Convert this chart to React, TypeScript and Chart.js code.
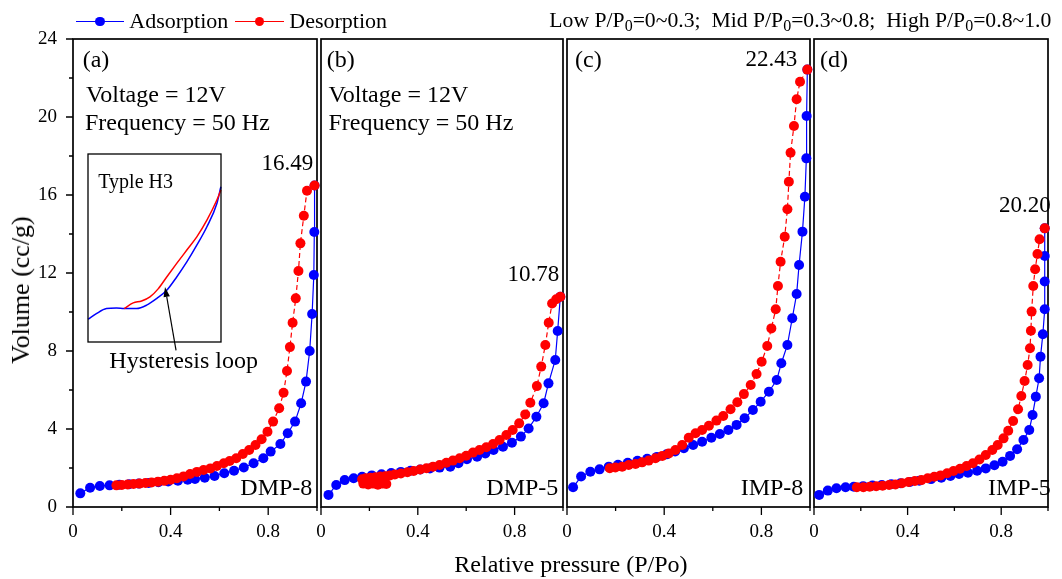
import React, { useEffect, useRef } from "react";
import { Chart, registerables } from "chart.js";
Chart.register(...registerables);

const FONT = '"Liberation Serif", "Times New Roman", Times, serif';
const W = 1062;
const H = 579;

// ---------- data ----------
// (a) DMP-8
const aAdsX = [0.03, 0.07, 0.11, 0.15, 0.19, 0.23, 0.27, 0.31, 0.35, 0.39, 0.43, 0.47, 0.5, 0.54, 0.58, 0.62, 0.66, 0.7, 0.74, 0.78, 0.81, 0.85, 0.88, 0.91, 0.935, 0.955, 0.97, 0.98, 0.987, 0.989, 0.99];
const aAdsY = [0.7, 0.99, 1.08, 1.11, 1.14, 1.17, 1.2, 1.23, 1.27, 1.31, 1.35, 1.4, 1.44, 1.5, 1.59, 1.73, 1.86, 2.03, 2.24, 2.5, 2.84, 3.23, 3.78, 4.38, 5.32, 6.43, 8.0, 9.9, 11.9, 14.1, 16.49];
const aDesX = [0.99, 0.959, 0.946, 0.932, 0.924, 0.913, 0.9, 0.889, 0.877, 0.863, 0.845, 0.82, 0.797, 0.773, 0.748, 0.722, 0.696, 0.669, 0.642, 0.618, 0.59, 0.563, 0.535, 0.508, 0.48, 0.453, 0.426, 0.4, 0.374, 0.348, 0.322, 0.297, 0.272, 0.248, 0.224, 0.2, 0.178];
const aDesY = [16.49, 16.22, 14.94, 13.52, 12.1, 10.7, 9.45, 8.2, 6.97, 5.86, 5.06, 4.38, 3.86, 3.47, 3.18, 2.92, 2.72, 2.5, 2.36, 2.24, 2.1, 1.98, 1.9, 1.8, 1.69, 1.57, 1.47, 1.4, 1.34, 1.3, 1.26, 1.23, 1.2, 1.18, 1.15, 1.13, 1.11];

// (b) DMP-5
const bAdsX = [0.031, 0.063, 0.098, 0.135, 0.17, 0.21, 0.25, 0.29, 0.33, 0.37, 0.41, 0.45, 0.49, 0.534, 0.568, 0.603, 0.645, 0.679, 0.713, 0.752, 0.789, 0.826, 0.858, 0.89, 0.92, 0.94, 0.968, 0.978, 0.989];
const bAdsY = [0.62, 1.13, 1.38, 1.47, 1.55, 1.62, 1.68, 1.74, 1.8, 1.86, 1.92, 1.98, 2.02, 2.07, 2.25, 2.45, 2.58, 2.75, 2.92, 3.09, 3.3, 3.61, 4.03, 4.63, 5.32, 6.34, 7.54, 9.03, 10.78];
const bDesX = [0.989, 0.972, 0.955, 0.941, 0.927, 0.91, 0.892, 0.865, 0.844, 0.819, 0.792, 0.766, 0.738, 0.711, 0.683, 0.655, 0.628, 0.6, 0.573, 0.545, 0.518, 0.49, 0.463, 0.436, 0.41, 0.383, 0.357, 0.33, 0.305, 0.285, 0.265, 0.245, 0.225, 0.205, 0.185, 0.17, 0.175, 0.195, 0.215, 0.235, 0.255, 0.27];
const bDesY = [10.78, 10.65, 10.44, 9.45, 8.31, 7.2, 6.2, 5.35, 4.75, 4.29, 3.95, 3.69, 3.44, 3.23, 3.06, 2.92, 2.79, 2.63, 2.5, 2.38, 2.27, 2.15, 2.07, 1.99, 1.92, 1.85, 1.78, 1.72, 1.67, 1.62, 1.58, 1.56, 1.53, 1.5, 1.47, 1.42, 1.2, 1.15, 1.2, 1.14, 1.2, 1.18];

// (c) IMP-8
const cAdsX = [0.025, 0.058, 0.096, 0.134, 0.172, 0.21, 0.25, 0.29, 0.33, 0.37, 0.41, 0.445, 0.481, 0.519, 0.556, 0.594, 0.629, 0.664, 0.698, 0.731, 0.765, 0.797, 0.831, 0.863, 0.882, 0.907, 0.927, 0.945, 0.955, 0.969, 0.979, 0.985, 0.986, 0.989];
const cAdsY = [1.01, 1.56, 1.81, 1.93, 2.07, 2.17, 2.27, 2.37, 2.47, 2.57, 2.7, 2.85, 3.01, 3.18, 3.35, 3.55, 3.74, 3.95, 4.21, 4.55, 4.97, 5.4, 5.91, 6.51, 7.37, 8.31, 9.68, 10.92, 12.41, 14.12, 15.91, 17.88, 20.05, 22.43];
const cDesX = [0.989, 0.959, 0.945, 0.934, 0.92, 0.913, 0.907, 0.896, 0.879, 0.868, 0.859, 0.841, 0.824, 0.801, 0.78, 0.756, 0.728, 0.701, 0.673, 0.643, 0.615, 0.584, 0.556, 0.529, 0.501, 0.474, 0.446, 0.419, 0.392, 0.364, 0.336, 0.309, 0.282, 0.254, 0.227, 0.199, 0.176];
const cDesY = [22.43, 21.81, 20.91, 19.54, 18.17, 16.68, 15.27, 13.86, 12.58, 11.33, 10.14, 9.16, 8.26, 7.45, 6.82, 6.26, 5.79, 5.37, 5.01, 4.67, 4.43, 4.17, 3.95, 3.78, 3.55, 3.18, 2.92, 2.75, 2.62, 2.5, 2.38, 2.29, 2.21, 2.15, 2.07, 2.03, 1.99];

// (d) IMP-5
const dAdsX = [0.022, 0.059, 0.096, 0.135, 0.17, 0.21, 0.25, 0.29, 0.33, 0.37, 0.41, 0.45, 0.5, 0.544, 0.583, 0.62, 0.658, 0.697, 0.734, 0.771, 0.806, 0.838, 0.868, 0.895, 0.92, 0.934, 0.948, 0.962, 0.968, 0.978, 0.986, 0.986, 0.986, 0.986];
const dAdsY = [0.62, 0.84, 0.96, 1.01, 1.04, 1.07, 1.1, 1.13, 1.17, 1.22, 1.28, 1.35, 1.43, 1.5, 1.59, 1.69, 1.76, 1.86, 1.98, 2.14, 2.32, 2.62, 2.96, 3.44, 3.95, 4.72, 5.66, 6.6, 7.71, 8.86, 10.14, 11.56, 12.87, 14.29];
const dDesX = [0.986, 0.964, 0.955, 0.945, 0.937, 0.93, 0.927, 0.923, 0.913, 0.9, 0.886, 0.872, 0.851, 0.83, 0.81, 0.785, 0.762, 0.734, 0.707, 0.679, 0.652, 0.624, 0.596, 0.569, 0.541, 0.514, 0.486, 0.459, 0.431, 0.404, 0.376, 0.348, 0.321, 0.293, 0.266, 0.238, 0.211, 0.183];
const dDesY = [14.29, 13.73, 12.97, 12.19, 11.33, 10.02, 9.04, 8.14, 7.28, 6.46, 5.69, 5.01, 4.41, 3.91, 3.52, 3.18, 2.92, 2.67, 2.44, 2.24, 2.1, 1.96, 1.85, 1.73, 1.62, 1.55, 1.47, 1.38, 1.33, 1.28, 1.22, 1.16, 1.13, 1.09, 1.06, 1.04, 1.01, 1.01];

// inset (Typle H3), arbitrary 0-100 units
const insetAdsX = [0, 6.3, 13.9, 21.4, 27.2, 36.5, 44.1, 51.6, 59.2, 66.7, 74.3, 81.8, 89.4, 96.9, 99.9];
const insetAdsY = [12.1, 15.1, 17.8, 18.1, 17.8, 17.8, 19.6, 23.1, 27.5, 34.6, 42.6, 51.5, 61.3, 73.7, 82.6];
const insetDesX = [27.2, 34.0, 40.3, 46.6, 52.9, 59.2, 66.7, 74.3, 81.8, 89.4, 96.9, 99.9];
const insetDesY = [17.8, 20.8, 21.8, 24.0, 28.4, 34.6, 41.8, 48.9, 55.9, 64.8, 75.5, 80.8];
const insetArrowFrom = [66.2, -4.4];
const insetArrowTo = [57.9, 29.3];

// ticks and labels
const xMajorTicks = [0, 0.4, 0.8];
const xMinorTicks = [0.2, 0.6, 1.0];
const yMajorTicks = [0, 4, 8, 12, 16, 20, 24];
const yMinorTicks = [2, 6, 10, 14, 18, 22];
const panelLetters = ["(a)", "(b)", "(c)", "(d)"];
const sampleNames = ["DMP-8", "DMP-5", "IMP-8", "IMP-5"];
const peakLabels = ["16.49", "10.78", "22.43", "20.20"];
const seriesNames = ["Adsorption", "Desorption"];

// ---------- styling / layout ----------
const BLUE = "#0000ff";
const RED = "#ff0000";
const PLOT_TOP = 39;
const PLOT_BOTTOM = 507;
const PANEL_BOX = [
  { left: 73, right: 317 },
  { left: 321, right: 563 },
  { left: 567, right: 810 },
  { left: 814, right: 1056 },
];
const INSET_BOX = { left: 88, right: 221, top: 154, bottom: 342 };

const zip = (xs: number[], ys: number[]) => xs.map((x, i) => ({ x, y: ys[i] }));

const panelData = [
  { ads: zip(aAdsX, aAdsY), des: zip(aDesX, aDesY) },
  { ads: zip(bAdsX, bAdsY), des: zip(bDesX, bDesY) },
  { ads: zip(cAdsX, cAdsY), des: zip(cDesX, cDesY) },
  { ads: zip(dAdsX, dAdsY), des: zip(dDesX, dDesY) },
];

const near = (v: number, arr: number[]) => arr.some((a) => Math.abs(a - v) < 1e-6);

function makeFramePlugin(showY: boolean) {
  return {
    id: "frameTicks",
    beforeDatasetsDraw(chart: any) {
      const { ctx, chartArea, scales } = chart;
      const { left, right, top, bottom } = chartArea;
      const xs = scales.x;
      const ys = scales.y;
      ctx.save();
      ctx.strokeStyle = "#000";
      ctx.lineWidth = 1.3;
      ctx.beginPath();
      for (const v of xMajorTicks) {
        const p = xs.getPixelForValue(v);
        ctx.moveTo(p, bottom);
        ctx.lineTo(p, bottom + 8);
      }
      for (const v of xMinorTicks) {
        const p = xs.getPixelForValue(v);
        ctx.moveTo(p, bottom);
        ctx.lineTo(p, bottom + 4);
      }
      if (showY) {
        for (const v of yMajorTicks) {
          const p = ys.getPixelForValue(v);
          ctx.moveTo(left, p);
          ctx.lineTo(left - 7, p);
        }
        for (const v of yMinorTicks) {
          const p = ys.getPixelForValue(v);
          ctx.moveTo(left, p);
          ctx.lineTo(left - 4, p);
        }
      }
      ctx.stroke();
      ctx.lineWidth = 1.7;
      ctx.strokeRect(left, top, right - left, bottom - top);
      ctx.restore();
    },
  };
}

function PanelChart({ index }: { index: number }) {
  const ref = useRef<HTMLCanvasElement>(null);
  useEffect(() => {
    const box = PANEL_BOX[index];
    const showY = index === 0;
    const d = panelData[index];
    const pointStyle = {
      pointRadius: 5,
      pointHoverRadius: 5,
      pointBorderWidth: 0,
      borderWidth: 1.2,
      tension: 0,
      clip: false as any,
    };
    const chart = new Chart(ref.current as HTMLCanvasElement, {
      type: "line",
      data: {
        datasets: [
          {
            label: seriesNames[0],
            data: d.ads,
            borderColor: BLUE,
            backgroundColor: BLUE,
            pointBackgroundColor: BLUE,
            pointBorderColor: BLUE,
            order: 1,
            ...pointStyle,
          },
          {
            label: seriesNames[1],
            data: d.des,
            borderColor: RED,
            backgroundColor: RED,
            pointBackgroundColor: RED,
            pointBorderColor: RED,
            borderDash: [5, 3],
            order: 0,
            ...pointStyle,
          },
        ],
      },
      options: {
        responsive: false,
        animation: false,
        events: [],
        layout: {
          padding: {
            left: showY ? 0 : box.left,
            right: W - box.right,
            top: PLOT_TOP,
            bottom: 0,
          },
        },
        plugins: { legend: { display: false }, tooltip: { enabled: false } },
        scales: {
          x: {
            type: "linear",
            min: 0,
            max: 1,
            afterFit: (s: any) => {
              s.height = H - PLOT_BOTTOM;
            },
            grid: { display: false, drawTicks: false },
            border: { display: false },
            ticks: {
              stepSize: 0.2,
              padding: 14,
              autoSkip: false,
              maxRotation: 0,
              color: "#000",
              font: { family: FONT, size: 19 },
              callback: (v: any) => (near(Number(v), xMajorTicks) ? String(Math.round(Number(v) * 10) / 10) : ""),
            },
          },
          y: {
            type: "linear",
            min: 0,
            max: 24,
            display: showY,
            afterFit: (s: any) => {
              if (showY) s.width = box.left;
              else s.width = 0;
            },
            grid: { display: false, drawTicks: false },
            border: { display: false },
            ticks: {
              stepSize: 2,
              padding: 16,
              color: "#000",
              font: { family: FONT, size: 19 },
              callback: (v: any) => (near(Number(v), yMajorTicks) ? String(v) : ""),
            },
          },
        },
      },
      plugins: [makeFramePlugin(showY)],
    } as any);
    return () => chart.destroy();
  }, [index]);
  return <canvas ref={ref} width={W} height={H} style={{ position: "absolute", left: 0, top: 0 }} />;
}

function InsetChart() {
  const ref = useRef<HTMLCanvasElement>(null);
  useEffect(() => {
    const arrowPlugin = {
      id: "insetFrame",
      afterDatasetsDraw(chart: any) {
        const { ctx, chartArea, scales } = chart;
        const { left, right, top, bottom } = chartArea;
        ctx.save();
        ctx.strokeStyle = "#000";
        ctx.lineWidth = 1.3;
        ctx.strokeRect(left, top, right - left, bottom - top);
        const x1 = scales.x.getPixelForValue(insetArrowFrom[0]);
        const y1 = scales.y.getPixelForValue(insetArrowFrom[1]);
        const x2 = scales.x.getPixelForValue(insetArrowTo[0]);
        const y2 = scales.y.getPixelForValue(insetArrowTo[1]);
        const ang = Math.atan2(y2 - y1, x2 - x1);
        const hl = 10;
        const hw = 3.2;
        const bx = x2 - hl * Math.cos(ang);
        const by = y2 - hl * Math.sin(ang);
        ctx.lineWidth = 1.2;
        ctx.beginPath();
        ctx.moveTo(x1, y1);
        ctx.lineTo(bx, by);
        ctx.stroke();
        ctx.fillStyle = "#000";
        ctx.beginPath();
        ctx.moveTo(x2, y2);
        ctx.lineTo(bx + hw * Math.sin(ang), by - hw * Math.cos(ang));
        ctx.lineTo(bx - hw * Math.sin(ang), by + hw * Math.cos(ang));
        ctx.closePath();
        ctx.fill();
        ctx.restore();
      },
    };
    const lineStyle = { pointRadius: 0, borderWidth: 1.5, cubicInterpolationMode: "monotone" as any, clip: false as any };
    const chart = new Chart(ref.current as HTMLCanvasElement, {
      type: "line",
      data: {
        datasets: [
          { label: seriesNames[1], data: zip(insetDesX, insetDesY), borderColor: RED, order: 0, ...lineStyle },
          { label: seriesNames[0], data: zip(insetAdsX, insetAdsY), borderColor: BLUE, order: 1, ...lineStyle },
        ],
      },
      options: {
        responsive: false,
        animation: false,
        events: [],
        layout: {
          padding: {
            left: INSET_BOX.left,
            right: W - INSET_BOX.right,
            top: INSET_BOX.top,
            bottom: H - INSET_BOX.bottom,
          },
        },
        plugins: { legend: { display: false }, tooltip: { enabled: false } },
        scales: {
          x: { type: "linear", min: 0, max: 100, display: false },
          y: { type: "linear", min: 0, max: 100, display: false },
        },
      },
      plugins: [arrowPlugin],
    } as any);
    return () => chart.destroy();
  }, []);
  return <canvas ref={ref} width={W} height={H} style={{ position: "absolute", left: 0, top: 0 }} />;
}

function T({ x, base, size, right, children }: { x: number; base: number; size: number; right?: boolean; children: any }) {
  const s: any = {
    position: "absolute",
    top: base - 0.8375 * size,
    fontSize: size,
    lineHeight: size + "px",
    whiteSpace: "pre",
    fontFamily: FONT,
    color: "#000",
  };
  if (right) s.right = W - x;
  else s.left = x;
  return <div style={s}>{children}</div>;
}

const Sub = ({ children }: { children: any }) => (
  <span style={{ fontSize: 16, position: "relative", top: 4 }}>{children}</span>
);

function LegendMark({ x1, x2, y, color }: { x1: number; x2: number; y: number; color: string }) {
  const cx = (x1 + x2) / 2;
  return (
    <>
      <div style={{ position: "absolute", left: x1, top: y - 0.75, width: x2 - x1, height: 1.5, background: color }} />
      <div style={{ position: "absolute", left: cx - 4.6, top: y - 4.6, width: 9.2, height: 9.2, borderRadius: "50%", background: color }} />
    </>
  );
}

export default function App() {
  const letterX = [82.7, 326.7, 575, 820];
  const nameRight = [312.3, 558.3, 803.3, 1050.7];
  const peakPos = [
    { x: 313.3, base: 170 },
    { x: 559.3, base: 281.7 },
    { x: 797.3, base: 66.7 },
    { x: 1050.7, base: 212.7 },
  ];
  return (
    <div
      style={{
        position: "absolute",
        left: 0,
        top: 0,
        width: W,
        height: H,
        overflow: "hidden",
        background: "#fff",
        fontFamily: FONT,
      }}
    >
      {[0, 1, 2, 3].map((i) => (
        <PanelChart key={i} index={i} />
      ))}
      <InsetChart />

      {/* legend */}
      <LegendMark x1={76} x2={124} y={21.7} color={BLUE} />
      <T x={129.3} base={28.3} size={22}>{seriesNames[0]}</T>
      <LegendMark x1={235} x2={284} y={21.7} color={RED} />
      <T x={289.3} base={28.3} size={22}>{seriesNames[1]}</T>

      <T x={549.3} base={28.3} size={21.7}>
        {"Low P/P"}<Sub>0</Sub>{"=0~0.3;  Mid P/P"}<Sub>0</Sub>{"=0.3~0.8;  High P/P"}<Sub>0</Sub>{"=0.8~1.0"}
      </T>

      {panelLetters.map((l, i) => (
        <T key={"l" + i} x={letterX[i]} base={67} size={24}>{l}</T>
      ))}
      <T x={86} base={101.7} size={24}>Voltage = 12V</T>
      <T x={85} base={130} size={24}>Frequency = 50 Hz</T>
      <T x={328.5} base={101.7} size={24}>Voltage = 12V</T>
      <T x={328.5} base={130} size={24}>Frequency = 50 Hz</T>

      {peakLabels.map((p, i) => (
        <T key={"p" + i} x={peakPos[i].x} base={peakPos[i].base} size={23} right>{p}</T>
      ))}
      {sampleNames.map((n, i) => (
        <T key={"n" + i} x={nameRight[i]} base={495} size={24} right>{n}</T>
      ))}

      <T x={98.3} base={188} size={20}>Typle H3</T>
      <T x={109.3} base={367.7} size={24}>Hysteresis loop</T>

      <T x={454.3} base={572} size={24}>Relative pressure (P/Po)</T>

      <div
        style={{
          position: "absolute",
          left: 21,
          top: 290,
          transform: "translate(-50%, -50%) rotate(-90deg)",
          fontSize: 26,
          lineHeight: "26px",
          whiteSpace: "nowrap",
          fontFamily: FONT,
          color: "#000",
        }}
      >
        Volume (cc/g)
      </div>
    </div>
  );
}
